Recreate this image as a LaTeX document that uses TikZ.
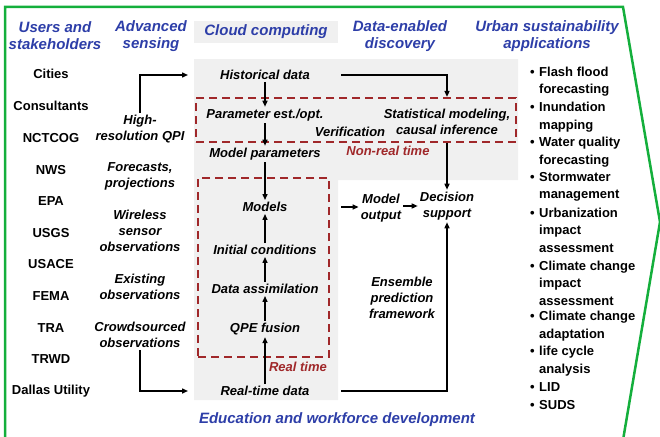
\documentclass[tikz,border=0pt]{standalone}
\usepackage{fontspec}
\setmainfont{Liberation Sans}
\usetikzlibrary{arrows.meta}
\definecolor{headblue}{RGB}{45,62,168}
\definecolor{boxred}{RGB}{160,40,42}
\definecolor{cloudgray}{RGB}{240,240,240}
\definecolor{framegreen}{RGB}{20,175,60}

\begin{document}
\begin{tikzpicture}[x=1pt,y=-1pt,
  every node/.style={font=\bfseries\fontsize{13}{16}\selectfont, inner sep=2pt},
  head/.style={font=\bfseries\itshape\fontsize{15}{17}\selectfont, text=headblue, align=center},
  actor/.style={align=center},
  sense/.style={font=\bfseries\itshape\fontsize{13}{16}\selectfont, align=center},
  proc/.style={font=\bfseries\itshape\fontsize{13}{16}\selectfont, align=center},
  tag/.style={font=\bfseries\itshape\fontsize{13}{16}\selectfont, text=boxred},
  app/.style={anchor=west, align=left, font=\bfseries\fontsize{13}{17.4}\selectfont},
  zone/.style={draw=boxred, line width=2.2pt, dash pattern=on 8pt off 5pt},
  arr/.style={line width=1.4pt, -{Triangle[length=6pt,width=5pt]}}
]
\useasboundingbox (0,0) rectangle (660,436);

% outer frame
\draw[framegreen, line width=2.5pt, line join=miter]
  (5,440) -- (5,7) -- (623,7) -- (660,222) -- (623,440);

% cloud computing background
\fill[cloudgray] (194,59) -- (518,59) -- (518,180) -- (338,180) -- (338,400) -- (194,400) -- cycle;
\node[head, fill=cloudgray, minimum width=144, minimum height=22] (hcloud) at (266,32) {Cloud computing};

% non-real-time and real-time zones
\node[zone, minimum width=320, minimum height=44] (nrtbox) at (356,120) {};
\node[zone, minimum width=131, minimum height=179] (rtbox) at (263.5,267.5) {};

% column headings
\node[head] (husers) at (55,36) {Users and\\stakeholders};
\node[head] (hsense) at (151,36) {Advanced\\sensing};
\node[head] (hdata) at (400,36) {Data-enabled\\discovery};
\node[head] (hurban) at (547,36) {Urban sustainability\\applications};
\node[head] (hedu) at (337,420) {Education and workforce development};

% users and stakeholders
\node[actor] (u1) at (51,74) {Cities};
\node[actor] (u2) at (51,106) {Consultants};
\node[actor] (u3) at (51,138) {NCTCOG};
\node[actor] (u4) at (51,170) {NWS};
\node[actor] (u5) at (51,201) {EPA};
\node[actor] (u6) at (51,233) {USGS};
\node[actor] (u7) at (51,264) {USACE};
\node[actor] (u8) at (51,296) {FEMA};
\node[actor] (u9) at (51,328) {TRA};
\node[actor] (u10) at (51,359) {TRWD};
\node[actor] (u11) at (51,391) {Dallas Utility};

% advanced sensing
\node[sense] (hiqpi) at (140,129) {High-\\resolution QPI};
\node[sense] (fcst) at (140,176) {Forecasts,\\projections};
\node[sense] (wsn) at (140,231) {Wireless\\sensor\\observations};
\node[sense] (exobs) at (140,287) {Existing\\observations};
\node[sense] (crowd) at (140,335) {Crowdsourced\\observations};

% cloud computing chain
\node[proc] (hist) at (265,75) {Historical data};
\node[proc] (param) at (265,115) {Parameter est./opt.};
\node[proc] (mpar) at (265,154) {Model parameters};
\node[proc] (models) at (265,207) {Models};
\node[proc] (init) at (265,250) {Initial conditions};
\node[proc] (assim) at (265,289) {Data assimilation};
\node[proc] (qpe) at (265,329) {QPE fusion};
\node[proc] (rtd) at (265,391) {Real-time data};

% data-enabled discovery
\node[proc] (verif) at (350,132) {Verification};
\node[proc] (stat) at (447,122) {Statistical modeling,\\causal inference};
\node[proc] (mout) at (381,208) {Model\\output};
\node[proc] (decision) at (447,206) {Decision\\support};
\node[proc] (ensemble) at (402,298) {Ensemble\\prediction\\framework};
\node[tag] (nrtlabel) at (388,151) {Non-real time};
\node[tag] (rtlabel) at (298,367) {Real time};

% urban sustainability applications
\node[app] (a1) at (537,81.5) {\llap{\textbullet\hspace{4.5pt}}Flash flood\\forecasting};
\node[app] (a2) at (537,117) {\llap{\textbullet\hspace{4.5pt}}Inundation\\mapping};
\node[app] (a3) at (537,152) {\llap{\textbullet\hspace{4.5pt}}Water quality\\forecasting};
\node[app] (a4) at (537,187) {\llap{\textbullet\hspace{4.5pt}}Stormwater\\management};
\node[app] (a5) at (537,230) {\llap{\textbullet\hspace{4.5pt}}Urbanization\\impact\\assessment};
\node[app] (a6) at (537,283) {\llap{\textbullet\hspace{4.5pt}}Climate change\\impact\\assessment};
\node[app] (a7) at (537,326) {\llap{\textbullet\hspace{4.5pt}}Climate change\\adaptation};
\node[app] (a8) at (537,361) {\llap{\textbullet\hspace{4.5pt}}life cycle\\analysis};
\node[app] (a9) at (537,387) {\llap{\textbullet\hspace{4.5pt}}LID};
\node[app] (a10) at (537,405) {\llap{\textbullet\hspace{4.5pt}}SUDS};

% connector anchors
\coordinate (histin) at (188,75);
\coordinate (rtdin) at (188,391);
\coordinate (spine) at (341,0);

% connectors
\draw[arr] (hiqpi.north) |- (histin);
\draw[arr] (crowd.south) |- (rtdin);
\draw[arr] (hist) -- (param);
\draw[arr] (param) -- (mpar);
\draw[arr] (mpar) -- (models);
\draw[arr] (init) -- (models);
\draw[arr] (assim) -- (init);
\draw[arr] (qpe) -- (assim);
\draw[arr] (rtd) -- (qpe);
\draw[arr] (spine |- hist) -| (stat |- nrtbox.north);
\draw[arr] (stat |- nrtbox.south) -- (decision.north);
\draw[arr] (spine |- models) -- (mout.west |- models);
\draw[arr] (mout.east |- decision) -- (decision.west);
\draw[arr] (spine |- rtd) -| (decision.south);
\end{tikzpicture}
\end{document}
